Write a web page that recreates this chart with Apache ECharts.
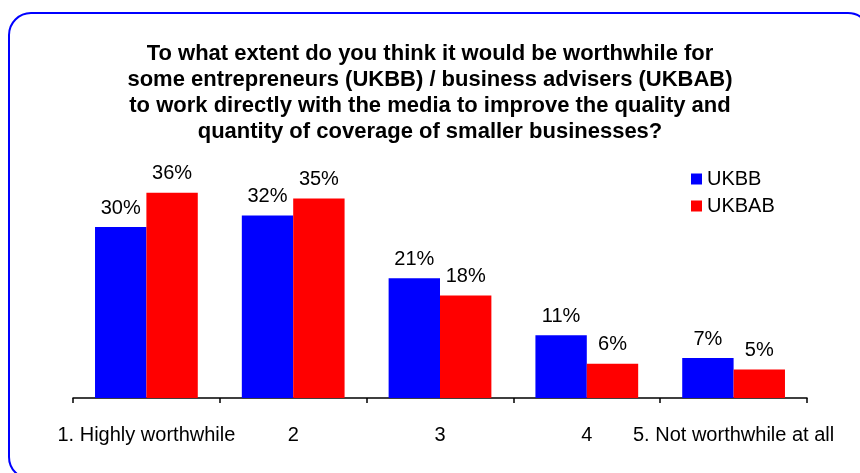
<!DOCTYPE html>
<html>
<head>
<meta charset="utf-8">
<script src="https://cdn.jsdelivr.net/npm/echarts@6/dist/echarts.min.js"></script>
<style>
  html, body { margin: 0; padding: 0; background: #fff; }
  #chart { width: 860px; height: 473px; }
</style>
</head>
<body>
<div id="chart"></div>
<script>
// Survey answers, share of respondents (%)
const categories = ['1. Highly worthwhile', '2', '3', '4', '5. Not worthwhile at all'];
const ukbb = [30, 32, 21, 11, 7];
const ukbab = [36, 35, 18, 6, 5];
const seriesNames = ['UKBB', 'UKBAB'];

const titleText = 'To what extent do you think it would be worthwhile for\n' +
  'some entrepreneurs (UKBB) / business advisers (UKBAB)\n' +
  'to work directly with the media to improve the quality and\n' +
  'quantity of coverage of smaller businesses?';

const FONT = '"Liberation Sans", Arial, sans-serif';

const chart = echarts.init(document.getElementById('chart'), null, { renderer: 'canvas' });

const labelStyle = {
  show: true,
  position: 'top',
  distance: 9,
  formatter: '{c}%',
  color: '#000',
  fontFamily: FONT,
  fontSize: 20
};

chart.setOption({
  animation: false,
  backgroundColor: '#fff',
  // rounded frame; its right and bottom sides run past the canvas edge
  graphic: [{
    type: 'rect',
    shape: { x: 9, y: 13, width: 861, height: 466, r: 22 },
    style: { fill: 'none', stroke: '#0000ff', lineWidth: 2 },
    z: 100
  }],
  title: {
    text: titleText,
    left: 'center',
    top: 36,
    textStyle: {
      fontFamily: FONT,
      fontWeight: 'bold',
      fontSize: 22,
      lineHeight: 26,
      color: '#000'
    }
  },
  legend: {
    data: seriesNames,
    orient: 'vertical',
    left: 686,
    top: 164,
    itemWidth: 11,
    itemHeight: 11,
    itemGap: 7,
    icon: 'rect',
    textStyle: { fontFamily: FONT, fontSize: 20, color: '#000' }
  },
  grid: { left: 73, right: 53, top: 170, bottom: 75 },
  xAxis: {
    type: 'category',
    data: categories,
    axisLine: { lineStyle: { color: '#000', width: 1.5 } },
    axisTick: { show: true, length: 5, lineStyle: { color: '#000', width: 1.5 } },
    axisLabel: {
      interval: 0,
      margin: 27,
      color: '#000',
      fontFamily: FONT,
      fontSize: 20
    }
  },
  yAxis: {
    type: 'value',
    min: 0,
    max: 40,
    show: false,
    splitLine: { show: false }
  },
  series: [
    {
      name: seriesNames[0],
      type: 'bar',
      data: ukbb,
      barGap: '0%',
      barCategoryGap: '30%',
      itemStyle: { color: '#0000ff' },
      label: labelStyle
    },
    {
      name: seriesNames[1],
      type: 'bar',
      data: ukbab,
      itemStyle: { color: '#ff0000' },
      label: labelStyle
    }
  ]
});
</script>
</body>
</html>
